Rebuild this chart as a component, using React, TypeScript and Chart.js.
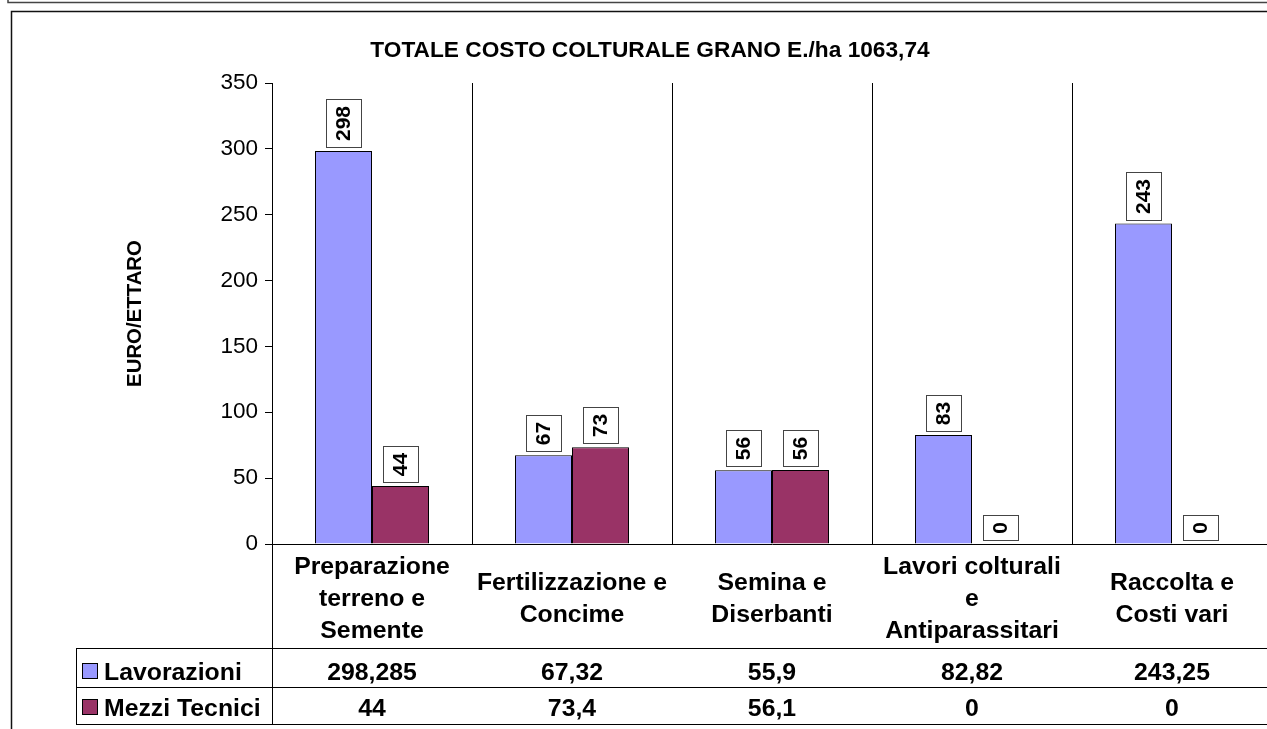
import React, { useEffect, useRef } from 'react';
import { Chart, registerables } from 'chart.js';

Chart.register(...registerables);

// ---- data ----
const categories: string[][] = [
  ['Preparazione', 'terreno e', 'Semente'],
  ['Fertilizzazione e', 'Concime'],
  ['Semina e', 'Diserbanti'],
  ['Lavori colturali', 'e', 'Antiparassitari'],
  ['Raccolta e', 'Costi vari'],
];
const seriesNames = ['Lavorazioni', 'Mezzi Tecnici'];
const lavorazioni = [298.285, 67.32, 55.9, 82.82, 243.25];
const mezziTecnici = [44, 73.4, 56.1, 0, 0];
const seriesColors = ['#9999FF', '#993366'];
const yMin = 0;
const yMax = 350;
const yStep = 50;
const chartTitle = 'TOTALE COSTO COLTURALE GRANO E./ha 1063,74';
const yTitle = 'EURO/ETTARO';

const FONT = "'Liberation Sans', Arial, sans-serif";

const fmt = (v: number) => String(v).replace('.', ',');

const decorPlugin = {
  id: 'decor',
  afterDatasetsDraw(chart: any) {
    const ctx = chart.ctx;
    ctx.save();
    ctx.font = `bold 21px ${FONT}`;
    chart.data.datasets.forEach((ds: any, i: number) => {
      const meta = chart.getDatasetMeta(i);
      meta.data.forEach((el: any, j: number) => {
        const { x, y } = el.getProps(['x', 'y'], true);
        const txt = String(Math.round(ds.data[j]));
        const tw = ctx.measureText(txt).width;
        const bw = 36;
        const bh = Math.round(tw + 14);
        const bottom = Math.round(y) - 3;
        const left = Math.round(x - bw / 2);
        ctx.fillStyle = '#fff';
        ctx.fillRect(left, bottom - bh, bw, bh);
        ctx.strokeStyle = '#444';
        ctx.lineWidth = 1;
        ctx.strokeRect(left + 0.5, bottom - bh + 0.5, bw - 1, bh - 1);
        ctx.save();
        ctx.translate(x, bottom - bh / 2);
        ctx.rotate(-Math.PI / 2);
        ctx.fillStyle = '#000';
        ctx.textAlign = 'center';
        ctx.textBaseline = 'middle';
        ctx.fillText(txt, 0, 1);
        ctx.restore();
      });
    });
    ctx.restore();
  },
  afterDraw(chart: any) {
    const ctx = chart.ctx;
    const area = chart.chartArea;
    const xs = chart.scales.x;
    const W = chart.width;
    ctx.save();
    // outer frames
    ctx.strokeStyle = '#444';
    ctx.lineWidth = 1.5;
    ctx.beginPath();
    ctx.moveTo(8, 0);
    ctx.lineTo(8, 2.5);
    ctx.lineTo(W, 2.5);
    ctx.stroke();
    ctx.strokeStyle = '#111';
    ctx.beginPath();
    ctx.moveTo(W, 11.5);
    ctx.lineTo(11.5, 11.5);
    ctx.lineTo(11.5, chart.height);
    ctx.stroke();

    // title
    ctx.fillStyle = '#000';
    ctx.font = `bold 22.7px ${FONT}`;
    ctx.textAlign = 'center';
    ctx.textBaseline = 'middle';
    ctx.fillText(chartTitle, 650, 51);

    // data table
    const t0 = area.bottom + 104;
    const t1 = area.bottom + 143;
    const t2 = area.bottom + 180;
    const tl = 76;
    ctx.strokeStyle = '#000';
    ctx.lineWidth = 1;
    ctx.beginPath();
    [t0, t1, t2].forEach((yy) => {
      ctx.moveTo(tl, yy + 0.5);
      ctx.lineTo(W, yy + 0.5);
    });
    ctx.moveTo(tl + 0.5, t0);
    ctx.lineTo(tl + 0.5, t2);
    ctx.moveTo(area.left + 0.5, area.bottom);
    ctx.lineTo(area.left + 0.5, t2);
    ctx.stroke();

    const rows = [
      { y0: t0, data: lavorazioni },
      { y0: t1, data: mezziTecnici },
    ];
    rows.forEach((r, i) => {
      const base = r.y0 + (i === 0 ? 32 : 29);
      ctx.fillStyle = seriesColors[i];
      ctx.fillRect(82, base - 17, 16, 16);
      ctx.strokeStyle = '#000';
      ctx.strokeRect(82.5, base - 16.5, 15, 15);
      ctx.fillStyle = '#000';
      ctx.font = `bold 24.8px ${FONT}`;
      ctx.textAlign = 'left';
      ctx.textBaseline = 'alphabetic';
      ctx.fillText(seriesNames[i], 104, base);
      ctx.textAlign = 'center';
      r.data.forEach((v, j) => {
        ctx.fillText(fmt(v), xs.getPixelForValue(j), base);
      });
    });
    ctx.restore();
  },
};

export default function App() {
  const ref = useRef<HTMLCanvasElement | null>(null);
  useEffect(() => {
    if (!ref.current) return;
    Chart.defaults.font.family = FONT;
    Chart.defaults.color = '#000';
    const chart = new Chart(ref.current, {
      type: 'bar',
      data: {
        labels: categories,
        datasets: [
          {
            label: seriesNames[0],
            data: lavorazioni,
            backgroundColor: seriesColors[0],
            borderColor: '#000',
            borderWidth: 1,
            categoryPercentage: 0.57,
            barPercentage: 1,
          },
          {
            label: seriesNames[1],
            data: mezziTecnici,
            backgroundColor: seriesColors[1],
            borderColor: '#000',
            borderWidth: 1,
            categoryPercentage: 0.57,
            barPercentage: 1,
          },
        ],
      },
      options: {
        responsive: false,
        animation: false,
        devicePixelRatio: 1,
        layout: { padding: { top: 83, right: 28, left: 0, bottom: 0 } },
        plugins: {
          legend: { display: false },
          title: { display: false },
          tooltip: { enabled: false },
        },
        scales: {
          x: {
            grid: {
              display: true,
              color: '#000',
              lineWidth: 1,
              drawTicks: false,
              offset: true,
            },
            border: { display: true, color: '#000', width: 1 },
            ticks: {
              font: { size: 24.8, weight: 'bold', lineHeight: 1.3 },
              color: '#000',
              maxRotation: 0,
              minRotation: 0,
              autoSkip: false,
              crossAlign: 'center',
              padding: 23,
            },
            afterFit: (s: any) => {
              s.height = 185;
            },
          },
          y: {
            min: yMin,
            max: yMax,
            ticks: {
              stepSize: yStep,
              font: { size: 22.5 },
              color: '#000',
              padding: 7,
            },
            grid: {
              drawOnChartArea: false,
              drawTicks: true,
              tickLength: 7,
              color: '#000',
            },
            border: { display: true, color: '#000', width: 1 },
            title: {
              display: true,
              text: yTitle,
              font: { size: 20.4, weight: 'bold', lineHeight: 1.2 },
              color: '#000',
              padding: { top: 123, bottom: 0 },
            },
            afterFit: (s: any) => {
              s.width = 272;
            },
          },
        },
      },
      plugins: [decorPlugin],
    });
    return () => chart.destroy();
  }, []);
  return (
    <div
      style={{
        position: 'fixed',
        left: 0,
        top: 0,
        width: 1267,
        height: 729,
        overflow: 'hidden',
        background: '#fff',
      }}
    >
      <canvas ref={ref} width={1300} height={729} style={{ width: 1300, height: 729, display: 'block' }} />
    </div>
  );
}
